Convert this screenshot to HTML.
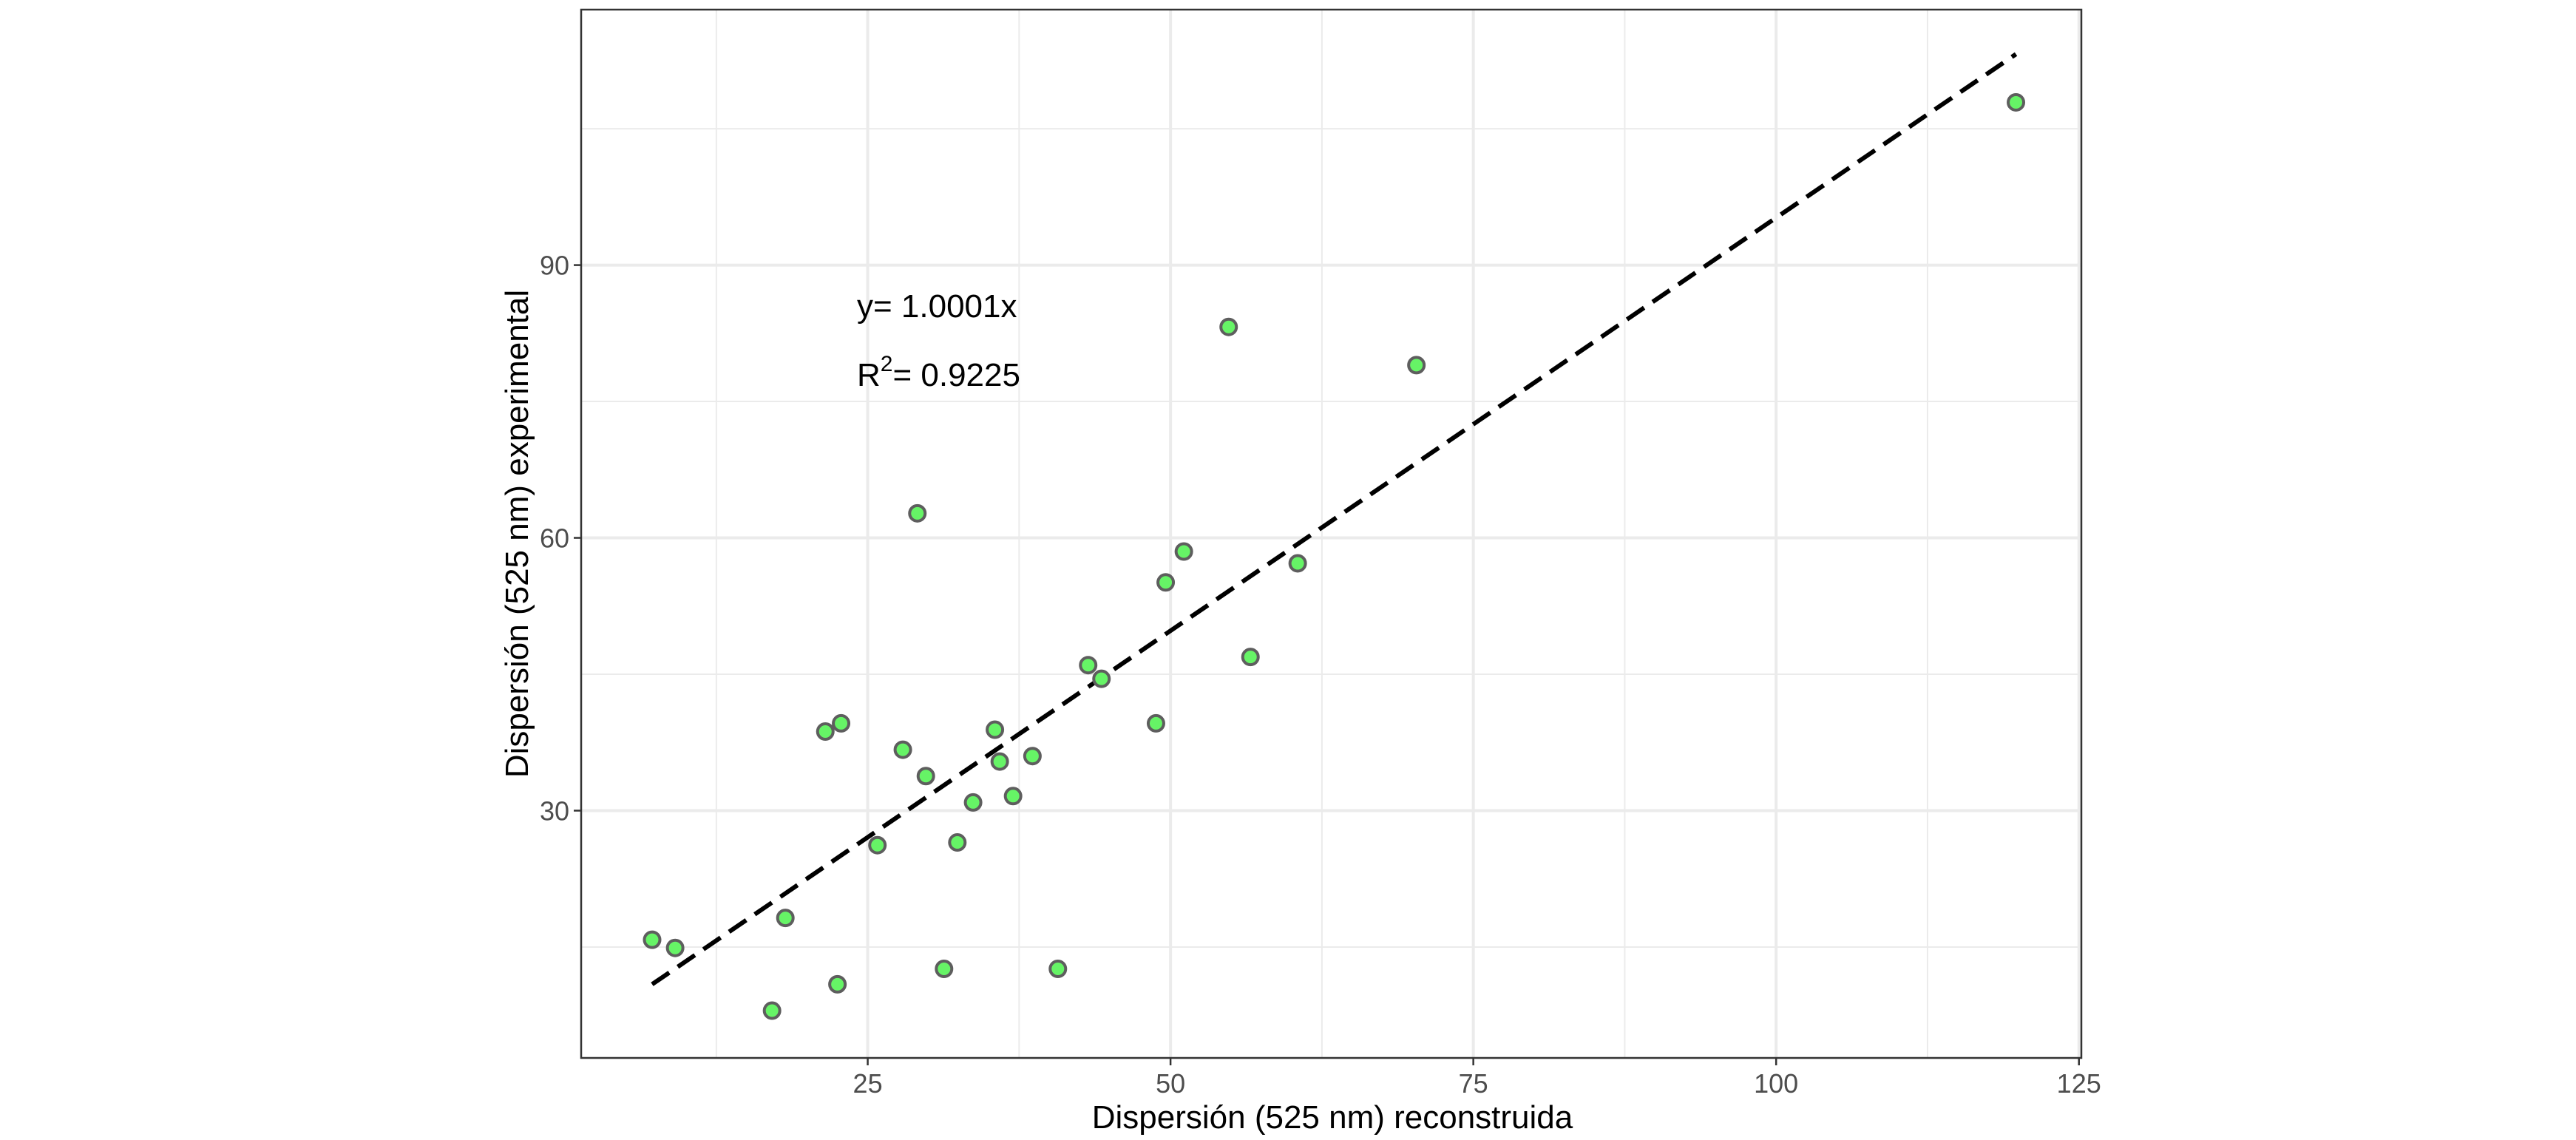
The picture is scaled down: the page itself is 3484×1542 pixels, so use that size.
<!DOCTYPE html>
<html><head><meta charset="utf-8"><style>
html,body{margin:0;padding:0;background:#fff;}
svg{display:block;font-family:"Liberation Sans",sans-serif;}
</style></head><body>
<svg id="chart" width="3484" height="1542" viewBox="0 0 3484 1542" xmlns="http://www.w3.org/2000/svg">
<rect x="0" y="0" width="3484" height="1542" fill="#fff"/>
<g id="grid"></g>
<g id="line"></g>
<g id="points"></g>
<rect x="786" y="13" width="2029" height="1418" fill="none" stroke="#333" stroke-width="2.5"/>
<g id="axes"></g>
<text x="1159" y="429" font-size="44" fill="#000">y= 1.0001x</text>
<text x="1159" y="522" font-size="44" fill="#000">R<tspan dy="-20" font-size="30">2</tspan><tspan dy="20">= 0.9225</tspan></text>
<text x="1802" y="1526" font-size="44" text-anchor="middle" fill="#000">Dispersión (525 nm) reconstruida</text>
<text transform="translate(714,722) rotate(-90)" font-size="44" text-anchor="middle" fill="#000">Dispersión (525 nm) experimental</text>
</svg>
<script>
const xVals=[7.2,9.1,17.1,18.2,22.5,21.5,22.8,25.8,27.9,29.1,29.8,31.3,32.4,33.7,35.5,35.9,37.0,38.6,40.7,43.2,44.3,48.8,49.6,51.1,54.8,56.6,60.5,70.3,119.8];
const yVals=[15.8,14.9,8.0,18.2,10.9,38.7,39.6,26.2,36.7,62.7,33.8,12.6,26.5,30.9,38.9,35.4,31.6,36.0,12.6,46.0,44.5,39.6,55.1,58.5,83.2,46.9,57.2,79.0,107.9];
const lineX=[7.2,119.8];
const lineY=[10.9,113.2];
const xTicks=[25,50,75,100,125];
const xMinor=[12.5,37.5,62.5,87.5,112.5];
const yTicks=[30,60,90];
const yMinor=[15,45,75,105];
const L=786,R=2815,T=13,B=1431;
const xMin=1.34,xMax=125.2,yMin=2.8,yMax=118.1;
const sx=v=>L+(v-xMin)/(xMax-xMin)*(R-L);
const sy=v=>B-(v-yMin)/(yMax-yMin)*(B-T);
const NS="http://www.w3.org/2000/svg";
function mk(tag,attrs,parent){const e=document.createElementNS(NS,tag);for(const k in attrs)e.setAttribute(k,attrs[k]);parent.appendChild(e);return e;}
const grid=document.getElementById('grid'),axes=document.getElementById('axes');
xMinor.forEach(v=>{const e=mk('line',{x1:sx(v),x2:sx(v),y1:T,y2:B,stroke:'#ebebeb','stroke-width':2},grid);

});
yMinor.forEach(v=>{const e=mk('line',{x1:L,x2:R,y1:sy(v),y2:sy(v),stroke:'#ebebeb','stroke-width':2},grid);

});
xTicks.forEach(v=>{const e=mk('line',{x1:sx(v),x2:sx(v),y1:T,y2:B,stroke:'#ebebeb','stroke-width':4},grid);


const t=mk('line',{x1:sx(v),x2:sx(v),y1:B,y2:B+10,stroke:'#333','stroke-width':2.5},axes);


const l=mk('text',{x:sx(v),y:B+47,'font-size':36,'text-anchor':'middle',fill:'#4d4d4d'},axes);l.textContent=v;

});
yTicks.forEach(v=>{const e=mk('line',{x1:L,x2:R,y1:sy(v),y2:sy(v),stroke:'#ebebeb','stroke-width':4},grid);


const t=mk('line',{x1:L-10,x2:L,y1:sy(v),y2:sy(v),stroke:'#333','stroke-width':2.5},axes);


const l=mk('text',{x:L-16,y:sy(v)+13,'font-size':36,'text-anchor':'end',fill:'#4d4d4d'},axes);l.textContent=v;

});
const ln=mk('line',{x1:sx(lineX[0]),y1:sy(lineY[0]),x2:sx(lineX[1]),y2:sy(lineY[1]),stroke:'#000','stroke-width':6,'stroke-dasharray':'28 14'},document.getElementById('line'));


const pg=document.getElementById('points');
xVals.forEach((v,i)=>{const c=mk('circle',{cx:sx(v),cy:sy(yVals[i]),r:10.5,fill:'#66f466',stroke:'#5e5e5e','stroke-width':4},pg);

});
</script>
</body></html>
